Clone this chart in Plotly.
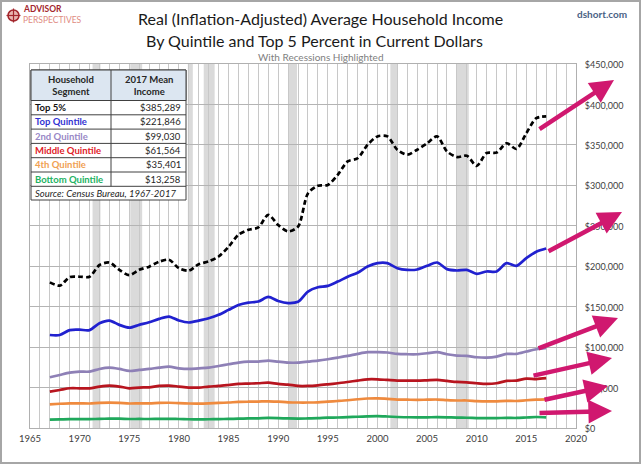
import plotly.graph_objects as go

# ---------------- data ----------------
years = list(range(1967, 2018))

top5 = [180, 176, 186.5, 187, 187, 201.5, 204.5, 195.5, 189, 195.5,
        199.5, 205.5, 208, 197.5, 194.5, 202.5, 206, 212, 224, 239,
        245, 248, 263.5, 251, 243, 249, 290, 299.5, 300.5, 313,
        329.5, 333.5, 350, 360.5, 360.5, 344, 338, 344, 352, 360.5,
        342, 335, 336.5, 324, 340, 340.5, 352, 345, 364.5, 383, 385.289]

top_quintile = [115, 115, 121, 121.5, 121, 129.5, 132.8, 127.5, 124, 127.5,
                130.8, 134.9, 137.8, 132.8, 130.4, 132.8, 135.7, 139.9, 146, 152,
                155, 156.3, 162, 157, 154.5, 156, 168.7, 174, 175.7, 181,
                187, 192, 199.6, 203.8, 203.8, 197.6, 195.5, 196, 200.5, 204.6,
                196.4, 194.7, 195.5, 190.6, 193.5, 193.5, 203.8, 200.5, 210, 218, 221.846]

second_quintile = [62.7, 65.6, 68.5, 69.7, 69.7, 73, 74.6, 73, 70.5, 71.8,
                   73, 74.6, 75.9, 73.8, 73, 73.8, 74.6, 76.7, 78.8, 80.8,
                   82, 82, 83.3, 82, 80.8, 80.8, 82, 83.3, 85, 87,
                   89.1, 91.6, 93.7, 93.7, 93.3, 91.6, 91.2, 91.2, 92.4, 93.7,
                   91.2, 89.5, 89.1, 87.5, 87, 88.3, 91.6, 91.6, 94.5, 97.4, 99.030]

middle_quintile = [45, 47, 49.1, 49.1, 49.1, 51.2, 52.4, 51.2, 49.1, 50,
                   50.3, 52, 52.4, 51.2, 50, 50, 51.2, 52, 53.2, 54.5,
                   54.9, 55.3, 56.1, 54.5, 53.6, 52, 52, 52.8, 54, 55.3,
                   56.9, 58.6, 60.2, 60.2, 59.4, 58.6, 58.6, 58.6, 59, 59.4,
                   58.2, 56.9, 56.5, 55.3, 54.5, 55.3, 58.2, 58.6, 61, 60.5, 61.564]

fourth_quintile = [29.3, 30, 30.5, 30.5, 30.3, 31, 31.3, 31, 30.3, 30.5,
                   30.5, 31, 31.2, 30.7, 30.3, 30.2, 30.5, 31, 31.5, 32.2,
                   32.5, 32.7, 33, 32.5, 31.8, 31.5, 31.5, 31.8, 32.6, 33.4,
                   34.3, 35.5, 36.5, 36.7, 36, 35.2, 35, 34.8, 35, 35.2,
                   34.5, 34, 34, 33.2, 32.8, 33, 33.5, 33.4, 34.3, 35, 35.401]

bottom_quintile = [10.3, 10.7, 11, 10.9, 10.9, 11.3, 11.5, 11.5, 11.1, 11.2,
                   11.1, 11.3, 11.4, 11.1, 10.8, 10.7, 10.8, 11, 11.3, 11.5,
                   11.8, 12, 12.4, 12.2, 11.8, 11.6, 11.8, 12.1, 12.8, 13,
                   13.4, 13.9, 14.4, 14.7, 14.2, 13.6, 13.3, 13.1, 13.2, 13.4,
                   13.2, 12.8, 12.7, 12.3, 12.1, 12.2, 12.5, 12.4, 13, 13.6, 13.258]

segment_names = ["Top 5%", "Top Quintile", "2nd Quintile",
                 "Middle Quintile", "4th Quintile", "Bottom Quintile"]
mean_2017 = ["$385,289", "$221,846", "$99,030", "$61,564", "$35,401", "$13,258"]

# recession bands as drawn on the chart (start, end)
recessions = [(1971.3, 1972.1), (1975.1, 1976.3), (1980.9, 1981.4), (1982.5, 1983.6),
              (1991.0, 1991.9), (2001.3, 2002.0), (2008.0, 2009.2)]

x_ticks = [1965, 1970, 1975, 1980, 1985, 1990, 1995, 2000, 2005, 2010, 2015, 2020]
y_ticks = [0, 50000, 100000, 150000, 200000, 250000, 300000, 350000, 400000, 450000]

# ---------------- styling ----------------
W, H = 641, 466
L, R, T, B = 30, 576, 64, 428
FONT = "Lato"

line_colors = ["#000000", "#2121CF", "#8E80B6", "#B8151F", "#EF8A3E", "#1FA85B"]
label_colors = ["#111111", "#3232D2", "#9887C6", "#E02027", "#F0A052", "#22B262"]
series = [top5, top_quintile, second_quintile, middle_quintile, fourth_quintile, bottom_quintile]


def px(x):
    return (x - L) / (R - L)


def py(y):
    return (B - y) / (B - T)


fig = go.Figure()

for name, vals, col in zip(segment_names, series, line_colors):
    fig.add_trace(go.Scatter(
        x=years, y=[v * 1000 for v in vals], mode="lines", name=name,
        line=dict(color=col, width=2.7, shape="spline", smoothing=0.8,
                  dash="5px,3px" if name == "Top 5%" else "solid"),
        showlegend=False, hoverinfo="skip"))

shapes = []
for a, b in recessions:
    shapes.append(dict(type="rect", xref="x", yref="y", x0=a, x1=b, y0=0, y1=450000,
                       fillcolor="#DADADA", line=dict(width=0), layer="below"))

annotations = []

# ---------- table ----------
tx0, txd, tx1 = 31, 111, 186
th0, th1 = 70, 100.5
rh = 14.3
tb = 200
row_edges = [th1 + i * rh for i in range(len(segment_names) + 1)]

shapes.append(dict(type="rect", xref="paper", yref="paper", x0=px(tx0), x1=px(tx1),
                   y0=py(tb), y1=py(th0), fillcolor="white",
                   line=dict(color="#404040", width=1), layer="above"))
shapes.append(dict(type="rect", xref="paper", yref="paper", x0=px(tx0), x1=px(tx1),
                   y0=py(th1), y1=py(th0), fillcolor="#DCE6F1",
                   line=dict(color="#404040", width=1), layer="above"))
for yy in row_edges:
    shapes.append(dict(type="line", xref="paper", yref="paper", x0=px(tx0), x1=px(tx1),
                       y0=py(yy), y1=py(yy), line=dict(color="#404040", width=1), layer="above"))
shapes.append(dict(type="line", xref="paper", yref="paper", x0=px(txd), x1=px(txd),
                   y0=py(row_edges[-1]), y1=py(th0), line=dict(color="#404040", width=1),
                   layer="above"))

annotations.append(dict(xref="paper", yref="paper", x=px((tx0 + txd) / 2), y=py((th0 + th1) / 2),
                        text="<b>Household<br>Segment</b>", showarrow=False,
                        font=dict(family=FONT, size=9.5, color="#262626"),
                        xanchor="center", yanchor="middle", align="center"))
annotations.append(dict(xref="paper", yref="paper", x=px((txd + tx1) / 2), y=py((th0 + th1) / 2),
                        text="<b>2017 Mean<br>Income</b>", showarrow=False,
                        font=dict(family=FONT, size=9.5, color="#262626"),
                        xanchor="center", yanchor="middle", align="center"))
for i, (nm, val, col) in enumerate(zip(segment_names, mean_2017, label_colors)):
    yc = (row_edges[i] + row_edges[i + 1]) / 2
    annotations.append(dict(xref="paper", yref="paper", x=px(tx0 + 2), y=py(yc),
                            text="<b>%s</b>" % nm, showarrow=False,
                            font=dict(family=FONT, size=9.5, color=col),
                            xanchor="left", yanchor="middle"))
    annotations.append(dict(xref="paper", yref="paper", x=px(tx1 - 3), y=py(yc),
                            text=val, showarrow=False,
                            font=dict(family=FONT, size=9.5, color="#262626"),
                            xanchor="right", yanchor="middle"))
annotations.append(dict(xref="paper", yref="paper", x=px(tx0 + 2), y=py((row_edges[-1] + tb) / 2),
                        text="<i>Source: Census Bureau, 1967-2017</i>", showarrow=False,
                        font=dict(family=FONT, size=9.5, color="#262626"),
                        xanchor="left", yanchor="middle"))

# ---------- arrows (head, tail) in pixels ----------
arrows = [((614, 80), (538, 130)), ((622, 212), (547, 252)), ((618, 318), (537, 349)),
          ((612, 358), (532, 376)), ((608, 386), (543, 400)), ((612, 411), (538, 413))]
for (hx, hy), (tx, ty) in arrows:
    annotations.append(dict(xref="paper", yref="paper", x=px(hx), y=py(hy),
                            axref="pixel", ayref="pixel", ax=tx - hx, ay=ty - hy,
                            text="", showarrow=True, arrowhead=2, arrowsize=1.05,
                            arrowwidth=4.5, arrowcolor="#D0186F", standoff=0, startstandoff=0))

# ---------- titles ----------
annotations.append(dict(xref="paper", yref="paper", x=px(320), y=py(18),
                        text="Real (Inflation-Adjusted) Average Household Income", showarrow=False,
                        font=dict(family=FONT, size=16, color="#1A1A1A"),
                        xanchor="center", yanchor="middle"))
annotations.append(dict(xref="paper", yref="paper", x=px(314), y=py(40),
                        text="By Quintile and Top 5 Percent in Current Dollars", showarrow=False,
                        font=dict(family=FONT, size=16, color="#1A1A1A"),
                        xanchor="center", yanchor="middle"))
annotations.append(dict(xref="paper", yref="paper", x=px(320), y=py(57),
                        text="With Recessions Highlighted", showarrow=False,
                        font=dict(family=FONT, size=10, color="#808080"),
                        xanchor="center", yanchor="middle"))
annotations.append(dict(xref="paper", yref="paper", x=px(629), y=py(14),
                        text="<b>dshort.com</b>", showarrow=False,
                        font=dict(family=FONT, size=10, color="#4A6285"),
                        xanchor="right", yanchor="middle"))
# logo
annotations.append(dict(xref="paper", yref="paper", x=px(21), y=py(9),
                        text="<b>ADVISOR</b>", showarrow=False,
                        font=dict(family=FONT, size=8.5, color="#A3262C"),
                        xanchor="left", yanchor="middle"))
annotations.append(dict(xref="paper", yref="paper", x=px(21), y=py(20.5),
                        text="PERSPECTIVES", showarrow=False,
                        font=dict(family=FONT, size=8.5, color="#E08B82"),
                        xanchor="left", yanchor="middle"))
shapes.append(dict(type="circle", xref="paper", yref="paper", x0=px(8), x1=px(19),
                   y0=py(21), y1=py(10), line=dict(color="#A3262C", width=1.5),
                   fillcolor="#E9B5B0", layer="above"))
shapes.append(dict(type="line", xref="paper", yref="paper", x0=px(13.5), x1=px(13.5),
                   y0=py(22.5), y1=py(8.5), line=dict(color="#A3262C", width=1.2), layer="above"))
shapes.append(dict(type="line", xref="paper", yref="paper", x0=px(6.5), x1=px(20.5),
                   y0=py(15.5), y1=py(15.5), line=dict(color="#A3262C", width=1.2), layer="above"))

# frame around the whole image
shapes.append(dict(type="rect", xref="paper", yref="paper", x0=px(1), x1=px(640),
                   y0=py(463), y1=py(1), line=dict(color="#A6A6A6", width=2),
                   fillcolor="rgba(0,0,0,0)", layer="above"))

fig.update_layout(
    width=W, height=H,
    margin=dict(l=L, r=W - R, t=T, b=H - B),
    paper_bgcolor="white", plot_bgcolor="white",
    font=dict(family=FONT, color="#404040"),
    shapes=shapes, annotations=annotations,
    xaxis=dict(range=[1965, 2020], tickvals=x_ticks, ticktext=[str(v) for v in x_ticks],
               showgrid=True, gridcolor="#C8C8C8", gridwidth=1,
               minor=dict(dtick=1, tick0=1965, showgrid=True, gridcolor="#C8C8C8", gridwidth=1),
               showline=True, linecolor="#B0B0B0", linewidth=1, mirror=True,
               ticks="", ticklabelstandoff=2,
               tickfont=dict(family=FONT, size=9.5, color="#404040"),
               zeroline=False, fixedrange=True),
    yaxis=dict(range=[0, 450000], side="right", tickvals=y_ticks,
               ticktext=["$" + format(v, ",") for v in y_ticks],
               showgrid=True, gridcolor="#B4B4B4", gridwidth=1,
               showline=True, linecolor="#B0B0B0", linewidth=1, mirror=True,
               ticks="", ticklabelstandoff=6, ticklabelshift=1,
               tickfont=dict(family=FONT, size=9, color="#404040"),
               zeroline=False, fixedrange=True),
)

fig.write_html("out.html", config={"displayModeBar": False},
               post_script="document.body.style.margin='0px';document.body.style.overflow='hidden';")
